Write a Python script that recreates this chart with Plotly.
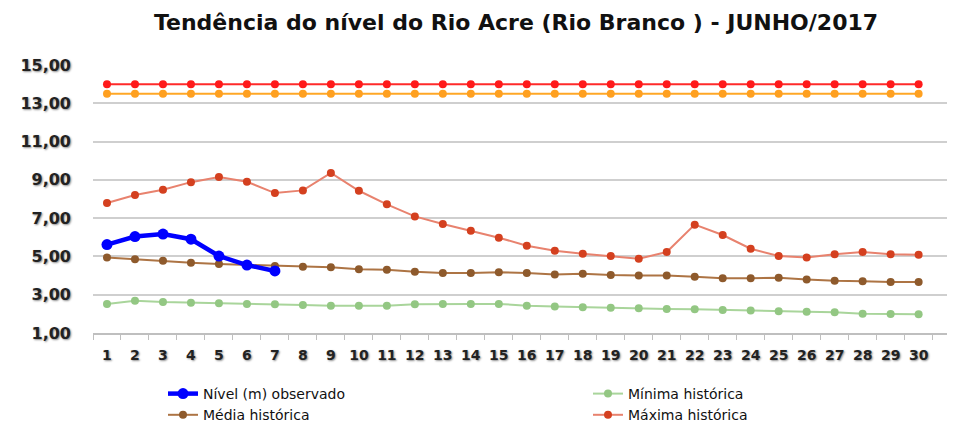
import plotly.graph_objects as go

dias = [str(d) for d in range(1, 31)]

nivel_observado = [5.62, 6.04, 6.17, 5.90, 5.02, 4.55, 4.24]
minima_historica = [2.52, 2.69, 2.62, 2.58, 2.55, 2.52, 2.50, 2.46, 2.43, 2.43,
                    2.43, 2.50, 2.52, 2.52, 2.52, 2.43, 2.38, 2.34, 2.32, 2.29,
                    2.25, 2.24, 2.20, 2.17, 2.13, 2.11, 2.08, 2.01, 1.99, 1.98]
media_historica = [4.95, 4.85, 4.78, 4.67, 4.60, 4.55, 4.50, 4.46, 4.43, 4.33,
                   4.31, 4.20, 4.13, 4.13, 4.17, 4.13, 4.05, 4.10, 4.03, 4.01,
                   4.01, 3.94, 3.86, 3.86, 3.89, 3.80, 3.73, 3.70, 3.66, 3.66]
maxima_historica = [7.79, 8.21, 8.48, 8.88, 9.15, 8.90, 8.31, 8.45, 9.36, 8.43,
                    7.72, 7.09, 6.69, 6.34, 5.98, 5.56, 5.30, 5.14, 5.02, 4.88,
                    5.23, 6.66, 6.12, 5.40, 5.02, 4.95, 5.11, 5.23, 5.11, 5.09]
cota_transbordamento = [14.00] * 30
cota_alerta = [13.50] * 30

y_ticks = [1, 3, 5, 7, 9, 11, 13, 15]

fig = go.Figure()

fig.add_trace(go.Scatter(x=dias, y=cota_transbordamento, mode="lines+markers",
                         line=dict(color="#FF2A2A", width=2),
                         marker=dict(color="#FF1A1A", size=8),
                         showlegend=False, name="Cota de transbordamento"))
fig.add_trace(go.Scatter(x=dias, y=cota_alerta, mode="lines+markers",
                         line=dict(color="#FFA726", width=2),
                         marker=dict(color="#FFA020", size=8),
                         showlegend=False, name="Cota de alerta"))
fig.add_trace(go.Scatter(x=dias, y=maxima_historica, mode="lines+markers",
                         name="Máxima histórica", legendrank=4,
                         line=dict(color="#E8826E", width=2),
                         marker=dict(color="#D4401F", size=8)))
fig.add_trace(go.Scatter(x=dias, y=minima_historica, mode="lines+markers",
                         name="Mínima histórica", legendrank=2,
                         line=dict(color="#A9D59B", width=2),
                         marker=dict(color="#93C783", size=8)))
fig.add_trace(go.Scatter(x=dias, y=media_historica, mode="lines+markers",
                         name="Média histórica", legendrank=3,
                         line=dict(color="#AD7444", width=2),
                         marker=dict(color="#8E5A2C", size=8)))
fig.add_trace(go.Scatter(x=dias[:len(nivel_observado)], y=nivel_observado,
                         mode="lines+markers", name="Nível (m) observado",
                         legendrank=1,
                         line=dict(color="#0000FF", width=4.5),
                         marker=dict(color="#0000FF", size=11)))

shadow = "1px 1px 2px rgba(0,0,0,0.45)"

W, H = 947, 414  # page body adds an 8px offset

fig.update_layout(
    width=W, height=H,
    margin=dict(l=85, r=0, t=57, b=89, autoexpand=False),
    paper_bgcolor="white", plot_bgcolor="white",
    separators=",.",
    title=dict(text="<b>Tendência do nível do Rio Acre (Rio Branco ) - JUNHO/2017</b>",
               x=508 / W, xanchor="center", y=1 - 14 / H, yanchor="middle",
               xref="container", yref="container", automargin=False,
               font=dict(family="DejaVu Sans", size=22, color="#111111")),
    xaxis=dict(type="category", range=[-0.5, 30.3], tickson="boundaries",
               ticks="outside", ticklen=5, tickcolor="#BFBFBF", tickwidth=1,
               showline=True, linecolor="#BFBFBF", linewidth=1.5,
               showgrid=False, ticklabelstandoff=8, tickangle=0,
               automargin=False,
               tickfont=dict(family="DejaVu Sans", size=14, color="#222222",
                             weight="bold", shadow=shadow)),
    yaxis=dict(range=[1, 15], tickvals=y_ticks, tickformat=".2f",
               showgrid=True, gridcolor="#CFCFCF", gridwidth=1.5,
               zeroline=False, showline=False, ticks="",
               ticklabelstandoff=21, automargin=False,
               tickfont=dict(family="DejaVu Sans", size=16, color="#222222",
                             weight="bold", shadow=shadow)),
    legend=dict(orientation="h", xref="container", yref="container",
                x=155 / W, xanchor="left", y=1 - 370 / H, yanchor="top",
                entrywidth=380, entrywidthmode="pixels",
                font=dict(family="DejaVu Sans", size=14, color="#111111"),
                bgcolor="rgba(0,0,0,0)"),
)

fig.write_html("out.html")
